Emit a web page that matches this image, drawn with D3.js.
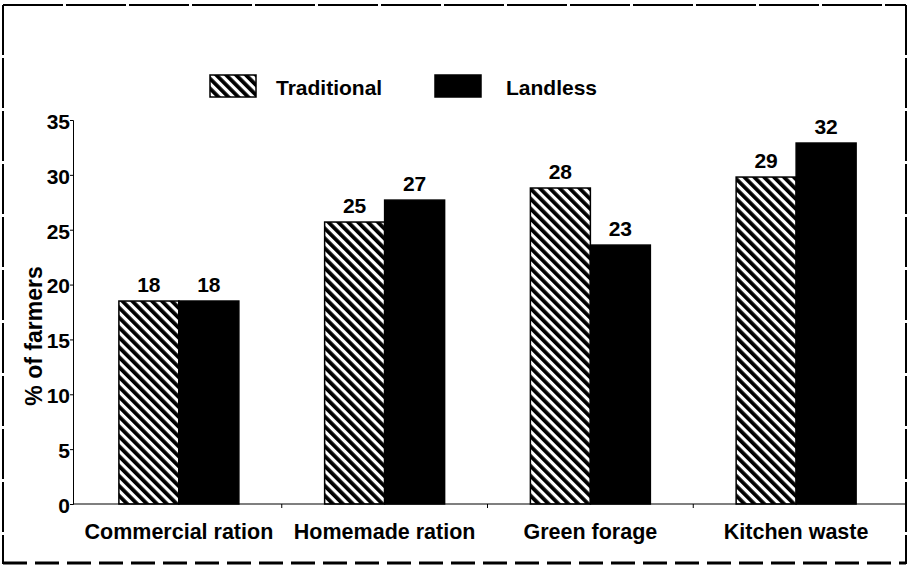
<!DOCTYPE html>
<html>
<head>
<meta charset="utf-8">
<script src="https://cdn.jsdelivr.net/npm/d3@7"></script>
<style>
  html, body { margin: 0; padding: 0; background: #fff; }
  svg { display: block; }
  text { font-family: "Liberation Sans", Arial, sans-serif; font-weight: bold; fill: #000; }
</style>
</head>
<body>
<svg id="chart" width="908" height="568"></svg>
<script>
// ---- data ----
const categories = ["Commercial ration", "Homemade ration", "Green forage", "Kitchen waste"];
const seriesNames = ["Traditional", "Landless"];
const traditional = [18.5, 25.7, 28.8, 29.8];
const landless = [18.5, 27.7, 23.6, 32.9];
const traditionalLabels = ["18", "25", "28", "29"];
const landlessLabels = ["18", "27", "23", "32"];
const yTicks = [0, 5, 10, 15, 20, 25, 30, 35];
const yTitle = "% of farmers";

// ---- layout ----
const svg = d3.select("#chart");

const defs = svg.append("defs");
const pat = defs.append("pattern")
  .attr("id", "hatch")
  .attr("patternUnits", "userSpaceOnUse")
  .attr("width", 7).attr("height", 7)
  .attr("patternTransform", "rotate(-45)");
pat.append("rect").attr("width", 7).attr("height", 7).attr("fill", "#fff");
pat.append("rect").attr("x", 0).attr("width", 3.8).attr("height", 7).attr("fill", "#000");

const y = d3.scaleLinear().domain([0, 35]).range([504, 120]);
const x0 = d3.scaleBand().domain(categories).range([76, 899]).padding(0);
const x1 = d3.scaleBand().domain(seriesNames).range([0, x0.bandwidth()]).paddingInner(0).paddingOuter(0.715);

const fills = { "Traditional": "url(#hatch)", "Landless": "#000" };

const rows = categories.map((c, i) => ({
  cat: c,
  items: [
    { s: "Traditional", v: traditional[i], label: traditionalLabels[i] },
    { s: "Landless", v: landless[i], label: landlessLabels[i] }
  ]
}));

// frame
svg.append("line").attr("x1", 3).attr("y1", 5).attr("x2", 906).attr("y2", 5)
  .attr("stroke", "#000").attr("stroke-width", 2).attr("stroke-dasharray", "60,3");
svg.append("line").attr("x1", 3).attr("y1", 5).attr("x2", 3).attr("y2", 564)
  .attr("stroke", "#000").attr("stroke-width", 2).attr("stroke-dasharray", "50,3");
svg.append("line").attr("x1", 906).attr("y1", 5).attr("x2", 906).attr("y2", 564)
  .attr("stroke", "#000").attr("stroke-width", 2).attr("stroke-dasharray", "50,3");
svg.append("line").attr("x1", 3).attr("y1", 563).attr("x2", 906).attr("y2", 563)
  .attr("stroke", "#000").attr("stroke-width", 3).attr("stroke-dasharray", "24,8");

// bars
const g = svg.append("g");
const groups = g.selectAll("g.grp").data(rows).join("g")
  .attr("class", "grp")
  .attr("transform", d => `translate(${x0(d.cat)},0)`);

groups.selectAll("rect").data(d => d.items).join("rect")
  .attr("x", d => x1(d.s))
  .attr("y", d => y(d.v))
  .attr("width", x1.bandwidth())
  .attr("height", d => y(0) - y(d.v))
  .attr("fill", d => fills[d.s])
  .attr("stroke", "#000")
  .attr("stroke-width", 1.5);

groups.selectAll("text.val").data(d => d.items).join("text")
  .attr("class", "val")
  .attr("x", d => x1(d.s) + x1.bandwidth() / 2)
  .attr("y", d => y(d.v) - 9)
  .attr("text-anchor", "middle")
  .attr("font-size", 21)
  .text(d => d.label);

// y axis
const yAxis = d3.axisLeft(y).tickValues(yTicks).tickSize(3).tickPadding(0);
const yg = svg.append("g").attr("transform", "translate(73,0)").call(yAxis);
yg.select(".domain").attr("stroke", "#000").attr("stroke-width", 1);
yg.selectAll(".tick line").attr("stroke", "#000");
yg.selectAll(".tick text")
  .attr("font-size", 21).attr("font-family", "'Liberation Sans', Arial, sans-serif")
  .attr("font-weight", "bold").attr("fill", "#000").attr("dy", "0.4em");

// x axis
const xAxis = d3.axisBottom(x0).tickSize(0).tickPadding(20);
const xg = svg.append("g").attr("transform", `translate(0,${y(0)})`).call(xAxis);
xg.select(".domain").attr("d", `M73,0H906`).attr("stroke", "#000").attr("stroke-width", 1.2);
xg.selectAll(".tick text")
  .attr("font-size", 21.5).attr("font-family", "'Liberation Sans', Arial, sans-serif")
  .attr("font-weight", "bold").attr("fill", "#000");
xg.selectAll("line.sep").data(categories.slice(1)).join("line")
  .attr("class", "sep")
  .attr("x1", d => x0(d)).attr("x2", d => x0(d))
  .attr("y1", 0).attr("y2", 4)
  .attr("stroke", "#000");

// y title
svg.append("text")
  .attr("transform", "translate(42,336) rotate(-90)")
  .attr("text-anchor", "middle")
  .attr("font-size", 23)
  .text(yTitle);

// legend
const legend = svg.append("g");
const legItems = [
  { s: "Traditional", x: 210, tx: 276 },
  { s: "Landless", x: 435, tx: 506 }
];
legend.selectAll("rect").data(legItems).join("rect")
  .attr("x", d => d.x).attr("y", 75).attr("width", 46).attr("height", 22)
  .attr("fill", d => fills[d.s]).attr("stroke", "#000").attr("stroke-width", 1.5);
legend.selectAll("text").data(legItems).join("text")
  .attr("x", d => d.tx).attr("y", 95)
  .attr("font-size", 21)
  .text(d => d.s);
</script>
</body>
</html>
